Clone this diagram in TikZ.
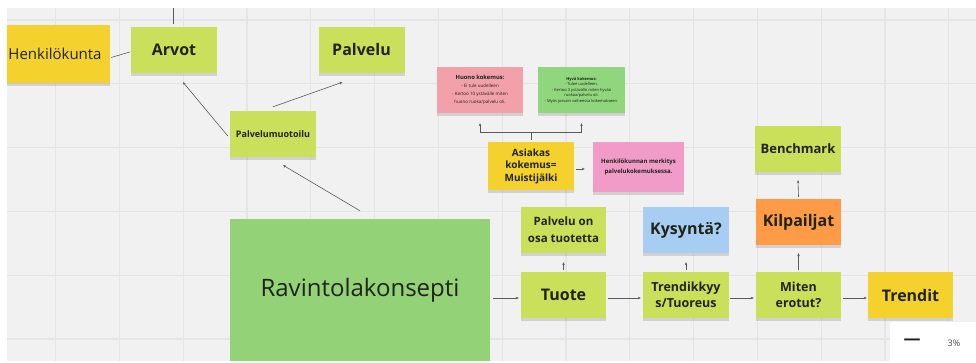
\documentclass[tikz,border=0pt]{standalone}
\usepackage{fontspec}
\setmainfont{Open Sans}
\usetikzlibrary{calc,arrows.meta,shadows}
\definecolor{bg}{HTML}{F1F1F1}
\definecolor{gridc}{HTML}{E5E5E5}
\definecolor{lime}{HTML}{CBE05A}
\definecolor{ylw}{HTML}{F5D12E}
\definecolor{biggreen}{HTML}{93D276}
\definecolor{pinkA}{HTML}{F2A0AA}
\definecolor{greenB}{HTML}{8FD67C}
\definecolor{pinkB}{HTML}{F19BC9}
\definecolor{blueA}{HTML}{A7CDF2}
\definecolor{orangeA}{HTML}{FF9B47}
\definecolor{txt}{HTML}{1F2416}
\definecolor{connc}{HTML}{5A5A5A}
\definecolor{navy}{HTML}{1B1B3A}
\tikzset{
  sticky/.style n args={3}{fill=#1, draw=none, inner sep=0pt, align=center, text=txt,
     minimum width=#2pt, minimum height=#3pt,
     drop shadow={shadow xshift=0pt, shadow yshift=-3pt, opacity=0.13, fill=black}},
  fbig/.style={font=\bfseries\fontsize{16}{19}\selectfont},
  fmid/.style={font=\bfseries\fontsize{12.5}{16}\selectfont},
  fsmall/.style={font=\bfseries\fontsize{11.5}{17}\selectfont},
  conn/.style={draw=connc, line width=0.6pt, -{Stealth[length=3pt,width=2.6pt]}},
  connl/.style={draw=connc, line width=0.6pt},
}
\begin{document}
\begin{tikzpicture}[x=1pt,y=-1pt]
\useasboundingbox (0,0) rectangle (976,363);
\fill[bg] (0,0) rectangle (976,363);
\foreach \i in {0,...,14} \draw[gridc, line width=1.2pt] ({55.5+63.8*\i},0) -- ({55.5+63.8*\i},363);
\foreach \j in {0,...,5} \draw[gridc, line width=1.2pt] (0,{20+63.8*\j}) -- (976,{20+63.8*\j});

% top-left cluster
\node[sticky={ylw}{110}{58}, font=\fontsize{15}{18}\selectfont] (henk) at (55,54) {Henkilökunta};
\node[sticky={lime}{86}{46}, fbig] (arvot) at (174,50) {Arvot};
\node[sticky={lime}{86}{46}, fbig] (palvelu) at (361.5,50) {Palvelu};
\node[sticky={lime}{86}{46}, font=\bfseries\fontsize{9}{11}\selectfont] (pmuot) at (273,134) {Palvelumuotoilu};
\node[sticky={biggreen}{260}{143}, font=\fontsize{24}{28}\selectfont] (ravinto) at (360,290.5) {Ravintolakonsepti};

% experience notes
\node[sticky={pinkA}{86}{46}, font=\fontsize{4.5}{8}\selectfont] (huono) at (480,90)
  {{\bfseries\fontsize{5.8}{8}\selectfont Huono kokemus:}\\- Ei tule uudelleen\\- Kertoo 10 ystävälle miten\\huono ruoka/palvelu oli.};
\node[sticky={greenB}{87}{46}, font=\fontsize{4}{5.5}\selectfont] (hyva) at (581.5,90)
  {{\bfseries Hyvä kokemus:}\\- Tulee uudelleen.\\- Kertoo 3 ystävälle miten hyvää\\ruokaa/palvelu oli.\\- Myös jossain vaiheessa kokemukseen.};
\node[sticky={ylw}{86}{48}, font=\bfseries\fontsize{10}{12.5}\selectfont] (asiakas) at (531,166) {Asiakas\\kokemus=\\Muistijälki};
\node[sticky={pinkB}{91}{50}, font=\bfseries\fontsize{6}{10}\selectfont] (henkmerk) at (638.5,167) {Henkilökunnan merkitys\\palvelukokemuksessa.};

% bottom row
\node[sticky={lime}{85}{46}, fsmall] (palveluon) at (563.5,230) {Palvelu on\\osa tuotetta};
\node[sticky={lime}{85}{46}, fbig] (tuote) at (563.5,295) {Tuote};
\node[sticky={blueA}{86}{46}, fbig] (kysynta) at (686,230) {Kysyntä?};
\node[sticky={lime}{86}{46}, fmid] (trend) at (686,295) {Trendikkyy\\s/Tuoreus};
\node[sticky={orangeA}{85}{46}, fbig] (kilp) at (798.5,222) {Kilpailjat};
\node[sticky={lime}{85}{46}, fmid] (miten) at (798.5,295) {Miten\\erotut?};
\node[sticky={lime}{86}{46}, font=\bfseries\fontsize{13}{16}\selectfont] (bench) at (798,149) {Benchmark};
\node[sticky={ylw}{85}{46}, fbig] (trendit) at (910.5,295) {Trendit};

% connectors
\coordinate (topend) at (173,8);
\draw[connl] (topend) -- ($(arvot.north)+(-1,-3)$);
\draw[connl] ($(henk.east)+(1,3.5)$) -- ($(arvot.west)+(-1,2)$);
\draw[conn] ($(pmuot.west)+(-2,2)$) -- ($(arvot.south)+(9,9)$);
\draw[conn] ($(pmuot.north)+(0,-4)$) -- ($(palvelu.south)+(-19,9)$);
\draw[conn] ($(ravinto.north)+(0,-8)$) -- ($(pmuot.south)+(10,8)$);

\coordinate (bj) at ($(asiakas.north)+(0,-9)$);
\draw[connl] ($(asiakas.north)+(0,-2)$) -- (bj);
\draw[conn] (bj) -| ($(huono.south)+(0,10)$);
\draw[conn] (bj) -| ($(hyva.south)+(0,10)$);
\draw[conn] ($(asiakas.east)+(2,3)$) -- ($(henkmerk.west)+(-8,2)$);

\draw[conn] ($(ravinto.east)+(3,7.5)$) -- ($(tuote.west)+(-2,3)$);
\draw[conn] ($(tuote.east)+(2,3)$) -- ($(trend.west)+(-2,3)$);
\draw[conn] ($(trend.east)+(1,3)$) -- ($(miten.west)+(-2,3)$);
\draw[conn] ($(miten.east)+(2,3)$) -- ($(trendit.west)+(-1,3)$);
\draw[conn] ($(tuote.north)+(0,-2)$) -- ($(palveluon.south)+(0,9)$);
\draw[conn] ($(trend.north)+(0,-2)$) -- ($(kysynta.south)+(0,9)$);
\draw[conn] ($(miten.north)+(0,-2)$) -- ($(kilp.south)+(0,8)$);
\draw[conn] ($(kilp.north)+(0,-2)$) -- ($(bench.south)+(0,8)$);

% margins
\fill[white] (0,0) rectangle (976,8);
\fill[white] (0,0) rectangle (7,363);
\fill[white] (0,361) rectangle (976,363);

% zoom panel
\node[fill=white, draw=none, minimum width=86pt, minimum height=41pt, anchor=north west, inner sep=0pt] (zoompanel) at (890,322) {};
\node[text=navy, font=\bfseries\fontsize{17}{18}\selectfont] (minus) at (912,342) {—};
\node[text=black!70, font=\fontsize{9}{10}\selectfont] (pct) at (954,343) {3\%};
\end{tikzpicture}
\end{document}
